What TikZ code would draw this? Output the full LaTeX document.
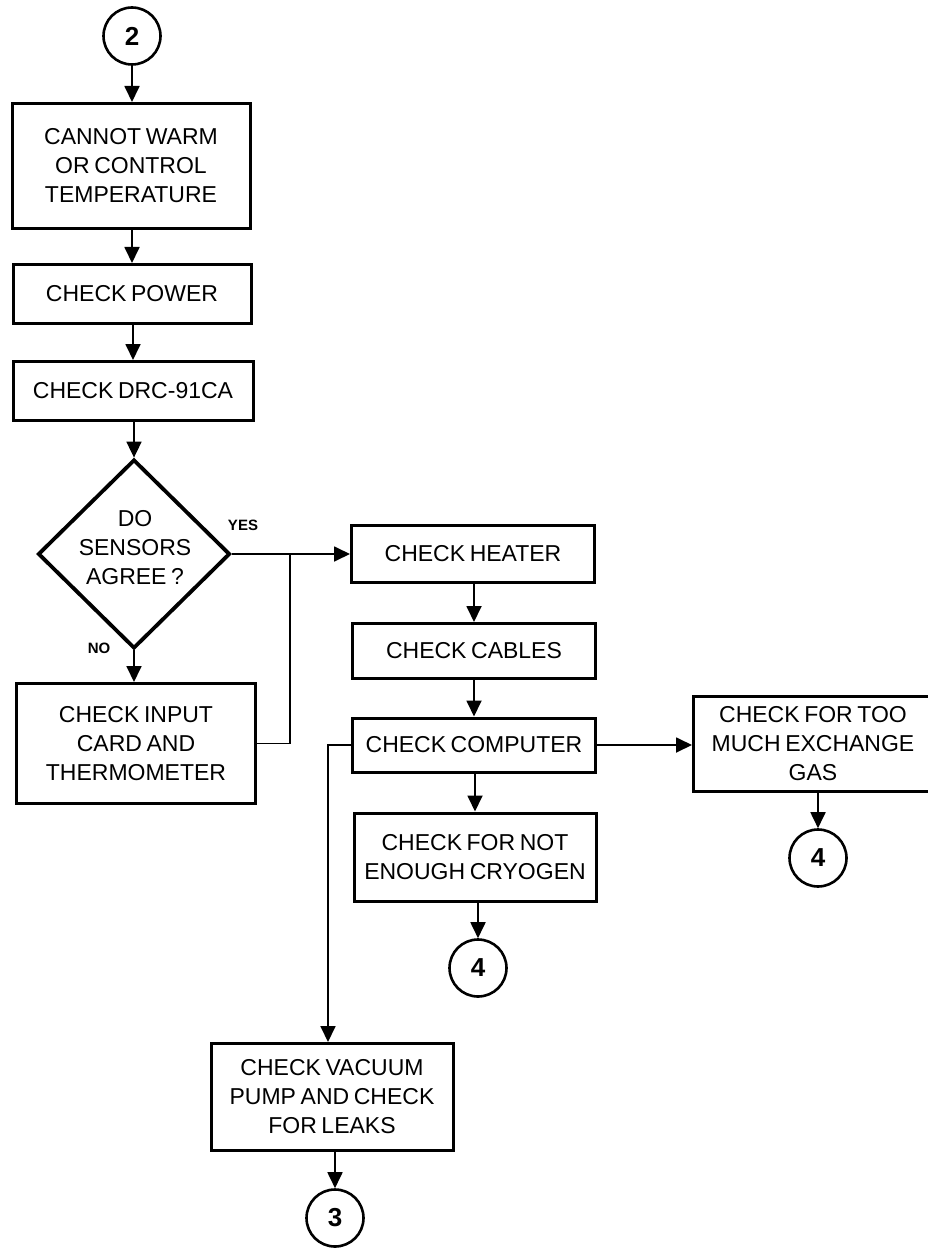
\documentclass[tikz,border=0pt]{standalone}
\usepackage{fontspec}
\setmainfont{Liberation Sans}
\usetikzlibrary{shapes.geometric,arrows.meta}
\newcommand\boxfont{\fontsize{23}{29}\selectfont\spaceskip=4.6pt plus 1pt\relax}
\begin{document}
\begin{tikzpicture}[x=1pt,y=-1pt,
  txt/.style={align=center,font=\boxfont},
  box/.style={txt,draw,line width=3pt,inner sep=0pt},
  conn/.style={draw,circle,line width=2.6pt,minimum size=57pt,inner sep=0pt,
    font=\bfseries\fontsize{26}{26}\selectfont},
  flow/.style={line width=1.8pt,-{Triangle[length=16pt,width=15pt]}},
  link/.style={line width=1.8pt},
  tag/.style={font=\bfseries\fontsize{15}{15}\selectfont}
]
\clip (0,0) rectangle (928,1249);

% left column
\node[conn] (c2) at (132,36) {2};
\node[box,minimum width=238pt,minimum height=125pt] (b1) at (131,166)
  {CANNOT WARM\\OR CONTROL\\TEMPERATURE};
\node[box,minimum width=238pt,minimum height=59pt] (b2) at (132,294) {CHECK POWER};
\node[box,minimum width=240pt,minimum height=59pt] (b3) at (133,391) {CHECK DRC-91CA};
\node[draw,diamond,line width=3.8pt,minimum width=192pt,minimum height=189pt,
  inner sep=0pt] (q) at (134,554) {};
\node[txt] (qt) at (135,548) {DO\\SENSORS\\AGREE ?};
\node[box,minimum width=239pt,minimum height=120pt] (b4) at (136,743.5)
  {CHECK INPUT\\CARD AND\\THERMOMETER};
\node[tag] (yes) at (243,525) {YES};
\node[tag] (no) at (99,648) {NO};

% middle column
\node[box,minimum width=243pt,minimum height=57pt] (h1) at (473,554) {CHECK HEATER};
\node[box,minimum width=243pt,minimum height=55pt] (h2) at (474,651) {CHECK CABLES};
\node[box,minimum width=243pt,minimum height=54pt] (h3) at (474,745) {CHECK COMPUTER};
\node[box,minimum width=242pt,minimum height=88pt] (cr) at (475,857)
  {CHECK FOR NOT\\ENOUGH CRYOGEN};
\node[conn] (c4b) at (478,968) {4};
\node[box,minimum width=242pt,minimum height=107pt] (v) at (332,1097)
  {CHECK VACUUM\\PUMP AND CHECK\\FOR LEAKS};
\node[conn] (c3) at (335,1218) {3};

% right column
\node[box,minimum width=239pt,minimum height=95pt] (e1) at (813,744)
  {CHECK FOR TOO\\MUCH EXCHANGE\\GAS};
\node[conn] (c4a) at (818,858) {4};

% connectors
\draw[flow] (c2.south) -- (c2.south |- b1.north);
\draw[flow] (b1.south -| b2.north) -- (b2.north);
\draw[flow] (b2.south -| b3.north) -- (b3.north);
\draw[flow] (b3.south -| q.north) -- (q.north);
\draw[flow] (q.south) -- (q.south |- b4.north);
\draw[flow] (q.east) -- (h1.west);
\coordinate (j) at (290,554);
\draw[link] (b4.east) -| (j);

\draw[flow] (h1.south -| h2.north) -- (h2.north);
\draw[flow] (h2.south -| h3.north) -- (h3.north);
\draw[flow] (h3.east) -- (h3.east -| e1.west);
\draw[flow] (e1.south -| c4a) -- (c4a.north);
\draw[flow] (h3.south -| cr.north) -- (cr.north);
\draw[flow] (cr.south -| c4b) -- (c4b.north);
\coordinate (k) at (328,745);
\draw[flow] (h3.west) -- (k) -- (k |- v.north);
\draw[flow] (v.south -| c3) -- (c3.north);
\end{tikzpicture}
\end{document}
